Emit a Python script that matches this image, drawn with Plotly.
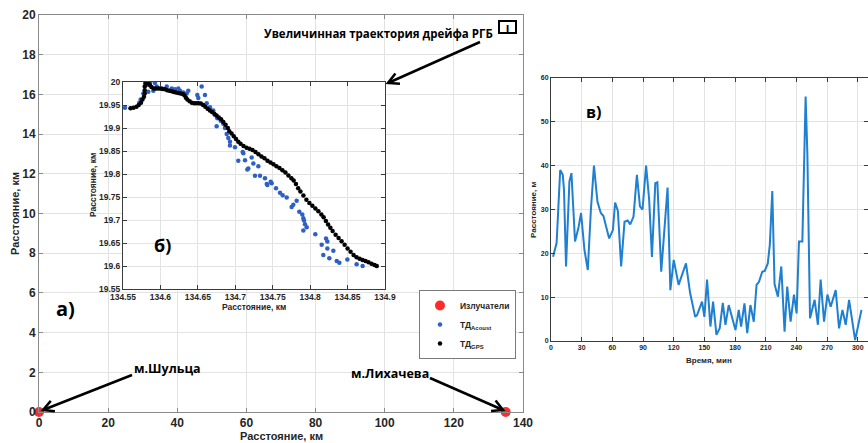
import math
import plotly.graph_objects as go

W, H = 868, 443

# ---------- data ----------
emit_x = [0, 135]
emit_y = [0, 0]

main_xticks = [0, 20, 40, 60, 80, 100, 120, 140]
main_yticks = [0, 2, 4, 6, 8, 10, 12, 14, 16, 18, 20]

inset_xticks = [134.55, 134.6, 134.65, 134.7, 134.75, 134.8, 134.85, 134.9]
inset_xlabels = ["134.55", "134.6", "134.65", "134.7", "134.75", "134.8", "134.85", "134.9"]
inset_yticks = [19.55, 19.6, 19.65, 19.7, 19.75, 19.8, 19.85, 19.9, 19.95, 20]
inset_ylabels = ["19.55", "19.6", "19.65", "19.7", "19.75", "19.8", "19.85", "19.9", "19.95", "20"]

acoust_x = [134.5527, 134.5718, 134.5736, 134.5772, 134.5838, 134.5807, 134.5861, 134.5927, 134.5905,
            134.5951, 134.6017, 134.6084, 134.6151, 134.6195, 134.6239, 134.6261, 134.6306, 134.6351,
            134.6372, 134.6493, 134.6506, 134.6551, 134.6595, 134.6618, 134.6662, 134.6706, 134.6729,
            134.6760, 134.6751, 134.6805, 134.6840, 134.6862, 134.6885, 134.6907, 134.6929, 134.6929,
            134.6996, 134.7040, 134.7107, 134.7130, 134.7174, 134.7099, 134.7219, 134.7241, 134.7161,
            134.7263, 134.7330, 134.7308, 134.7397, 134.7420, 134.7486, 134.7429, 134.7473, 134.7544,
            134.7597, 134.7633, 134.7687, 134.7753, 134.7775, 134.7820, 134.7855, 134.7895, 134.7909,
            134.7918, 134.7931, 134.7954, 134.7909, 134.8069, 134.8154, 134.8176, 134.8212, 134.8230,
            134.8230, 134.8256, 134.8310, 134.8355, 134.8390, 134.8497, 134.8621, 134.8701]
acoust_y = [19.944, 19.955, 19.962, 19.975, 19.979, 19.993, 19.998, 19.998, 19.981,
            19.990, 19.986, 19.990, 19.986, 19.984, 19.986, 19.981, 19.977, 19.975,
            19.981, 19.972, 19.965, 19.990, 19.972, 19.954, 19.945, 19.938, 19.928,
            19.921, 19.904, 19.916, 19.909, 19.900, 19.887, 19.878, 19.870, 19.862,
            19.858, 19.829, 19.845, 19.830, 19.812, 19.848, 19.836, 19.823, 19.810,
            19.796, 19.796, 19.817, 19.791, 19.778, 19.780, 19.776, 19.783, 19.769,
            19.759, 19.754, 19.749, 19.728, 19.733, 19.742, 19.718, 19.712, 19.704,
            19.699, 19.691, 19.684, 19.677, 19.669, 19.646, 19.624, 19.660, 19.653,
            19.638, 19.617, 19.633, 19.611, 19.607, 19.614, 19.604, 19.600]

gps_x = [134.560, 134.564, 134.568, 134.571, 134.574, 134.576, 134.578, 134.579, 134.579, 134.579,
         134.580, 134.582, 134.584, 134.586, 134.588, 134.591, 134.594, 134.597, 134.600, 134.603,
         134.606, 134.609, 134.612, 134.615, 134.618, 134.621, 134.624, 134.627, 134.630, 134.632,
         134.634, 134.636, 134.639, 134.642, 134.645, 134.648, 134.651, 134.654, 134.657, 134.660,
         134.663, 134.666, 134.669, 134.672, 134.675, 134.678, 134.681, 134.684, 134.687, 134.690,
         134.692, 134.695, 134.698, 134.701, 134.704, 134.707, 134.711, 134.715, 134.719, 134.723,
         134.727, 134.731, 134.735, 134.739, 134.743, 134.747, 134.751, 134.755, 134.759, 134.763,
         134.767, 134.771, 134.775, 134.778, 134.781, 134.784, 134.787, 134.791, 134.795, 134.799,
         134.803, 134.807, 134.811, 134.815, 134.818, 134.821, 134.824, 134.827, 134.830, 134.834,
         134.838, 134.842, 134.846, 134.850, 134.854, 134.858, 134.862, 134.866, 134.870, 134.874,
         134.878, 134.882, 134.886, 134.889]
gps_y = [19.943, 19.944, 19.946, 19.950, 19.955, 19.962, 19.968, 19.975, 19.982, 19.990,
         19.997, 20.000, 19.997, 19.993, 19.989, 19.986, 19.986, 19.986, 19.986, 19.985,
         19.984, 19.982, 19.981, 19.980, 19.978, 19.977, 19.976, 19.975, 19.974, 19.971,
         19.966, 19.962, 19.958, 19.955, 19.954, 19.954, 19.954, 19.953, 19.950, 19.946,
         19.942, 19.938, 19.935, 19.931, 19.927, 19.923, 19.919, 19.913, 19.907, 19.900,
         19.893, 19.888, 19.882, 19.876, 19.870, 19.866, 19.861, 19.857, 19.855, 19.852,
         19.848, 19.843, 19.838, 19.834, 19.829, 19.825, 19.821, 19.817, 19.813, 19.808,
         19.803, 19.797, 19.791, 19.786, 19.778, 19.769, 19.762, 19.753, 19.744, 19.737,
         19.731, 19.725, 19.719, 19.712, 19.706, 19.698, 19.690, 19.683, 19.676, 19.668,
         19.661, 19.654, 19.646, 19.638, 19.631, 19.624, 19.619, 19.616, 19.613, 19.611,
         19.608, 19.605, 19.602, 19.600]

time_min = [2, 5.5, 9, 11.5, 12.7, 14.7, 18, 20, 23.5, 27,
            29.4, 32.7, 36, 39, 42, 45.4, 48.7, 51.3, 54, 56.9,
            60.5, 62.7, 65.4, 68.6, 71.9, 75, 77.5, 80.7, 84, 87,
            89.5, 93, 96, 98.7, 102, 104, 107.8, 114, 116.7, 120,
            124.8, 132, 136, 141, 142.8, 147.7, 150, 152.6, 155.9, 158.5,
            161.8, 165, 168, 170.6, 173.8, 177, 180.4, 183.6, 185.9, 189.2,
            191.9, 195, 198.3, 201, 203.4, 206.6, 209, 212, 214, 216.4,
            218.6, 221.9, 225.2, 228.4, 231, 234.3, 237.6, 240.2, 242.5, 245.8,
            249, 250.7, 253.3, 257.8, 261, 263.7, 267, 270.3, 273.5, 278.4,
            281.7, 285, 288.2, 291.5, 294.8, 297.4, 303.6]
dist_m = [19.2, 22.4, 39, 37.9, 34.5, 17, 36.4, 38.3, 22.7, 26,
          29.2, 20.8, 16.2, 29.9, 40, 31.8, 29.2, 28.5, 26, 23.4,
          25.3, 31.6, 29.7, 17, 27.2, 27.5, 26.6, 28.4, 37.9, 30.7,
          30, 40, 32.2, 19.2, 36, 36.2, 15.8, 35, 11.6, 18.5,
          12.8, 17.7, 11, 5.5, 5.9, 9, 5.5, 14, 3.3, 9,
          1.4, 2.9, 8.7, 3.7, 8.2, 5.2, 2.5, 7.1, 3.3, 8.6,
          1.8, 8.2, 4.4, 12.8, 13.5, 15.8, 16, 17.7, 22, 34.2,
          13, 10.1, 17, 2.1, 12.4, 4.4, 10.6, 6.3, 22.7, 22.7,
          55.8, 42.8, 5.2, 9.4, 3.7, 14, 4.4, 10.6, 7.8, 11.6,
          2.9, 7.1, 3.7, 9.4, 3.7, 0.2, 7.1]

right_xticks = [0, 30, 60, 90, 120, 150, 180, 210, 240, 270, 300]
right_yticks = [0, 10, 20, 30, 40, 50, 60]

# ---------- helpers ----------
def px(x):
    return x / W

def py(y):
    return 1 - y / H

TICKC = "#262626"
GRID = "#e3e3e3"
AX = "#8a8a8a"
FONT = "Liberation Sans"
ANN = "Open Sans"

fig = go.Figure()

fig.add_trace(go.Scatter(x=emit_x, y=emit_y, mode="markers", name="Излучатели",
                         marker=dict(size=10, color="#ff2a2a"), cliponaxis=False,
                         xaxis="x", yaxis="y"))
fig.add_trace(go.Scatter(x=acoust_x, y=acoust_y, mode="markers", name="ТД<sub>Acoust</sub>",
                         marker=dict(size=4.5, color="#2e5fc2"), xaxis="x2", yaxis="y2"))
fig.add_trace(go.Scatter(x=gps_x, y=gps_y, mode="markers", name="ТД<sub>GPS</sub>",
                         marker=dict(size=4.5, color="#000000"), xaxis="x2", yaxis="y2"))
fig.add_trace(go.Scatter(x=time_min, y=dist_m, mode="lines", showlegend=False,
                         line=dict(color="#1f7fd0", width=2), xaxis="x3", yaxis="y3"))

def axis(domain, rng, tickvals, ticktext=None, fsize=11, anchor=None, lc=AX):
    d = dict(domain=domain, range=rng, tickmode="array", tickvals=tickvals,
             showgrid=True, gridcolor=GRID, gridwidth=1, zeroline=False,
             showline=True, linecolor=lc, linewidth=1, mirror="ticks",
             ticks="inside", ticklen=4, tickcolor=lc, automargin=False,
             tickfont=dict(family=FONT, size=fsize, color=TICKC, weight="bold"),
             anchor=anchor, fixedrange=True)
    if ticktext is not None:
        d["ticktext"] = ticktext
    return d

layout = dict(
    width=W, height=H, margin=dict(l=0, r=0, t=0, b=0, autoexpand=False),
    paper_bgcolor="white", plot_bgcolor="white",
    font=dict(family=FONT, color=TICKC),
    xaxis=axis([px(39), px(523)], [0, 140], main_xticks, fsize=12, anchor="y"),
    yaxis=axis([py(412), py(15)], [0, 20], main_yticks, fsize=12, anchor="x"),
    xaxis2=axis([px(123), px(385)], [134.55, 134.9], inset_xticks, inset_xlabels, fsize=8.5, anchor="y2", lc="#3a3a3a"),
    yaxis2=axis([py(289), py(82)], [19.55, 20], inset_yticks, inset_ylabels, fsize=8.5, anchor="x2", lc="#3a3a3a"),
    xaxis3=axis([px(551), 1.0], [0, 310], right_xticks, fsize=7, anchor="y3", lc="#3a3a3a"),
    yaxis3=axis([py(341), py(78)], [0, 60], right_yticks, fsize=7, anchor="x3", lc="#3a3a3a"),
    showlegend=True,
    legend=dict(x=px(419), y=py(290), xanchor="left", yanchor="top",
                bgcolor="white", bordercolor="#7a7a7a", borderwidth=1,
                font=dict(family=FONT, size=8.5, color=TICKC, weight="bold"),
                itemwidth=30, tracegroupgap=0),
)
fig.update_layout(**layout)

ann = []
def text(xp, yp, s, size, family=FONT, angle=0, color=TICKC):
    ann.append(dict(x=px(xp), y=py(yp), xref="paper", yref="paper", text=s,
                    showarrow=False, textangle=angle, xanchor="center", yanchor="middle",
                    font=dict(family=family, size=size, color=color, weight="bold")))

# axis titles
text(281, 436, "Расстояние, км", 11)
text(15, 214, "Расстояние, км", 11, angle=-90)
text(254, 307, "Расстояние, км", 8.5)
text(93, 185, "Расстояние, км", 8.5, angle=-90)
text(709, 360, "Время, мин", 8)
text(533, 210, "Расстояние, м", 8, angle=-90)

# panel labels and notes
text(65, 308, "а)", 20, family=ANN, color="black")
text(162, 245, "б)", 18, family=ANN, color="black")
text(593, 112, "в)", 16, family=ANN, color="black")
text(167, 368, "м.Шульца", 12.5, family=ANN, color="black")
text(390, 373, "м.Лихачева", 12.5, family=ANN, color="black")
text(378, 33, "Увеличинная траектория дрейфа РГБ", 11.5, family=ANN, color="black")

ann.append(dict(x=px(507), y=py(27), xref="paper", yref="paper", text="ı", showarrow=False,
                font=dict(family=ANN, size=12, color="black", weight="bold"),
                bordercolor="black", borderwidth=2, borderpad=0, width=15, height=10,
                xanchor="center", yanchor="middle"))
fig.update_layout(annotations=ann)

# arrows drawn as shapes (shaft + open head)
shapes = []
def arrow(hx, hy, tx, ty, L=12, ang=28):
    shapes.append(dict(type="line", xref="paper", yref="paper",
                       x0=px(tx), y0=py(ty), x1=px(hx), y1=py(hy),
                       line=dict(color="black", width=2.5)))
    dx, dy = tx - hx, ty - hy
    n = math.hypot(dx, dy)
    ux, uy = dx / n, dy / n
    pts = []
    for s in (1, -1):
        a = math.radians(ang) * s
        wx = hx + L * (ux * math.cos(a) - uy * math.sin(a))
        wy = hy + L * (ux * math.sin(a) + uy * math.cos(a))
        pts.append((wx, wy))
    path = "M{:.5f},{:.5f} L{:.5f},{:.5f} L{:.5f},{:.5f}".format(
        px(pts[0][0]), py(pts[0][1]), px(hx), py(hy), px(pts[1][0]), py(pts[1][1]))
    shapes.append(dict(type="path", xref="paper", yref="paper", path=path,
                       line=dict(color="black", width=2.5)))

arrow(43, 410, 132, 375)
arrow(503, 410, 430, 378)
arrow(388, 83, 480, 42)
fig.update_layout(shapes=shapes)

fig.write_html("out.html")
